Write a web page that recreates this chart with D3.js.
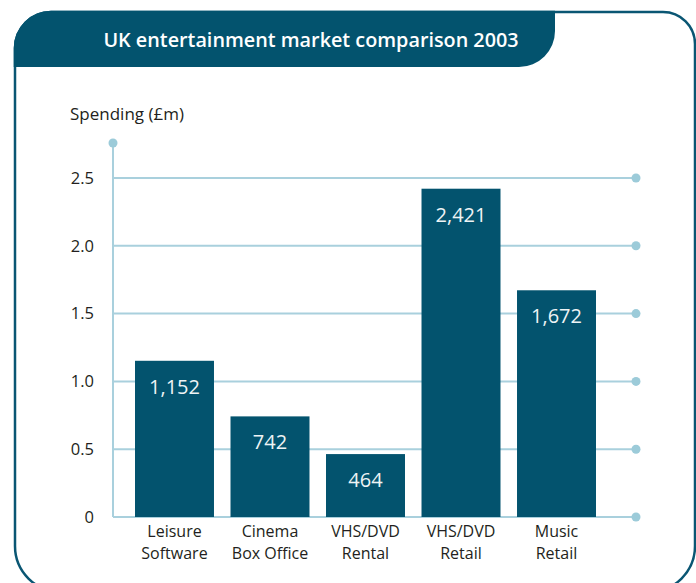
<!DOCTYPE html>
<html>
<head>
<meta charset="utf-8">
<script src="https://cdn.jsdelivr.net/npm/d3@7"></script>
<style>
  html, body { margin: 0; padding: 0; background: #ffffff; }
  svg { display: block; }
  text { font-family: "Open Sans", "Noto Sans", sans-serif; }
</style>
</head>
<body>
<svg id="chart" width="696" height="583"></svg>
<script>
// UK entertainment spending, 2003 (£m)
const categories = ["Leisure\nSoftware", "Cinema\nBox Office", "VHS/DVD\nRental", "VHS/DVD\nRetail", "Music\nRetail"];
const spending = [1152, 742, 464, 2421, 1672];
const tickValues = [0, 500, 1000, 1500, 2000, 2500];
const tickLabels = ["0", "0.5", "1.0", "1.5", "2.0", "2.5"];

const W = 696, H = 583;
const dark = "#03536e";
const gridColor = "#a9d0dd";
const dotColor = "#9ccbd9";
const textColor = "#231f20";

const svg = d3.select("#chart");

// Outer frame with rounded corners
const fx0 = 15, fy0 = 12, fx1 = 695, fy1 = 592, rTL = 36, rTR = 32, rB = 46;
svg.append("path")
  .attr("d", `M${fx0},${fy0 + rTL} L${fx0},${fy1 - rB} A${rB},${rB} 0 0 0 ${fx0 + rB},${fy1}
              L${fx1 - rB},${fy1} A${rB},${rB} 0 0 0 ${fx1},${fy1 - rB}
              L${fx1},${fy0 + rTR} A${rTR},${rTR} 0 0 0 ${fx1 - rTR},${fy0}
              L${fx0 + rTL},${fy0} A${rTL},${rTL} 0 0 0 ${fx0},${fy0 + rTL} Z`)
  .attr("fill", "none")
  .attr("stroke", "#0a5673")
  .attr("stroke-width", 2.5);

// Title banner
const bx1 = 555, by1 = 67, rBR = 36;
svg.append("path")
  .attr("d", `M${fx0 - 1.25},${by1} L${fx0 - 1.25},${fy0 + rTL} A${rTL + 1.25},${rTL + 1.25} 0 0 1 ${fx0 + rTL},${fy0 - 1.25}
              L${bx1},${fy0 - 1.25} L${bx1},${by1 - rBR} A${rBR},${rBR} 0 0 1 ${bx1 - rBR},${by1} Z`)
  .attr("fill", dark);

svg.append("text")
  .attr("x", 311).attr("y", 47)
  .attr("text-anchor", "middle")
  .attr("fill", "#ffffff")
  .attr("font-size", 19.8)
  .attr("font-weight", 600)
  .text("UK entertainment market comparison 2003");

// Scales
const y = d3.scaleLinear().domain([0, 2500]).range([517, 178]);
const x = d3.scaleBand().domain(categories).range([135, 596]).paddingInner(0.173).paddingOuter(0);
const axisX = 113, gridEnd = 636;

// Axis title
svg.append("text")
  .attr("x", 70).attr("y", 120)
  .attr("fill", textColor)
  .attr("font-size", 17)
  .text("Spending (£m)");

// Gridlines with end dots
const grid = svg.append("g");
grid.selectAll("line")
  .data(tickValues)
  .join("line")
  .attr("x1", axisX).attr("x2", gridEnd)
  .attr("y1", d => y(d)).attr("y2", d => y(d))
  .attr("stroke", gridColor).attr("stroke-width", 2);
grid.selectAll("circle")
  .data(tickValues)
  .join("circle")
  .attr("cx", gridEnd).attr("cy", d => y(d)).attr("r", 4.5)
  .attr("fill", dotColor);

// Vertical axis line topped with a dot
svg.append("line")
  .attr("x1", axisX).attr("x2", axisX)
  .attr("y1", 143).attr("y2", y(0))
  .attr("stroke", gridColor).attr("stroke-width", 2);
svg.append("circle")
  .attr("cx", axisX).attr("cy", 143).attr("r", 4.5)
  .attr("fill", dotColor);

// Y tick labels
const yAxis = svg.append("g")
  .attr("transform", `translate(${axisX},0)`)
  .call(d3.axisLeft(y).tickValues(tickValues).tickSize(0).tickPadding(19)
    .tickFormat((d, i) => tickLabels[i]));
yAxis.select(".domain").remove();
yAxis.selectAll("text")
  .attr("font-family", "'Open Sans', 'Noto Sans', sans-serif")
  .attr("font-size", 16.5)
  .attr("fill", textColor);

// Bars
const bars = svg.append("g");
bars.selectAll("rect")
  .data(spending)
  .join("rect")
  .attr("x", (d, i) => x(categories[i]))
  .attr("y", d => y(d))
  .attr("width", x.bandwidth())
  .attr("height", d => y(0) - y(d))
  .attr("fill", dark);

// Value labels inside bar tops
bars.selectAll("text")
  .data(spending)
  .join("text")
  .attr("x", (d, i) => x(categories[i]) + x.bandwidth() / 2)
  .attr("y", d => y(d) + 33)
  .attr("text-anchor", "middle")
  .attr("fill", "#eef3f5")
  .attr("font-size", 20)
  .text(d => d3.format(",")(d));

// Category labels, one text per line
const catLines = categories.flatMap((c, i) =>
  c.split("\n").map((line, j) => ({ c, line, j })));
svg.append("g").selectAll("text")
  .data(catLines)
  .join("text")
  .attr("x", d => x(d.c) + x.bandwidth() / 2)
  .attr("y", d => 537 + d.j * 22)
  .attr("text-anchor", "middle")
  .attr("fill", textColor)
  .attr("font-size", 16)
  .text(d => d.line);
</script>
</body>
</html>
